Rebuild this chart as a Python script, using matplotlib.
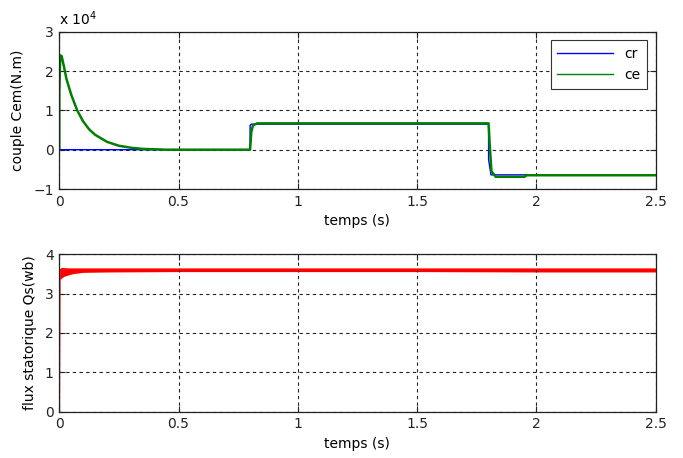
import numpy as np
import matplotlib.pyplot as plt

plt.rcParams['font.family'] = ['DejaVu Sans']

# couple resistant (cr), steps, in units of 1e4 N.m
t_cr = [0, 0.8, 0.8, 0.805, 1.8, 1.8, 1.81, 2.5]
cr = [0, 0, 0.62, 0.65, 0.65, -0.25, -0.64, -0.64]

# couple electromagnetique (ce), 1e4 N.m
t_ce = [0, 0.0, 0.004, 0.01, 0.02, 0.03, 0.05, 0.075, 0.1, 0.125, 0.15, 0.2,
        0.25, 0.3, 0.35, 0.4, 0.45, 0.8, 0.805, 0.812, 0.83, 1.8, 1.805,
        1.812, 1.83, 1.95, 1.96, 2.5]
ce = [0, 1.45, 2.4, 2.38, 2.1, 1.8, 1.4, 1.0, 0.72, 0.52, 0.38, 0.2,
      0.1, 0.05, 0.02, 0.01, 0.0, 0.0, 0.45, 0.62, 0.67, 0.67, 0.1,
      -0.55, -0.69, -0.69, -0.65, -0.65]

# flux statorique envelopes (wb)
t_flux = [0, 0.002, 0.01, 0.02, 0.04, 0.06, 0.1, 0.2, 0.5, 1.0, 1.5, 2.0, 2.5]
flux_hi = [0, 3.58, 3.63, 3.63, 3.62, 3.62, 3.62, 3.62, 3.62, 3.62, 3.62, 3.62, 3.62]
flux_lo = [0, 3.35, 3.40, 3.44, 3.48, 3.51, 3.54, 3.55, 3.56, 3.56, 3.56, 3.55, 3.55]

FS = 10

fig = plt.figure(figsize=(6.83, 4.58), dpi=100)
ax1 = fig.add_axes([0.0868, 0.5873, 0.873, 0.3434])
ax2 = fig.add_axes([0.0868, 0.1011, 0.873, 0.3437])

grid_kw = dict(color='#222222', linestyle=(0, (3, 3)), linewidth=0.8)

ax1.plot(t_cr, cr, color='#0000ff', lw=1.0, label='cr')
ax1.plot(t_ce, ce, color='#008000', lw=1.8)
ax1.plot([], [], color='#008000', lw=1.0, label='ce')
ax1.set_xlim(0, 2.5)
ax1.set_ylim(-1, 3)
ax1.set_yticks([-1, 0, 1, 2, 3])
ax1.set_xticks([0, 0.5, 1, 1.5, 2, 2.5])
ax1.set_xticklabels(['0', '0.5', '1', '1.5', '2', '2.5'])
ax1.set_xlabel('temps (s)', fontsize=FS, labelpad=4)
ax1.set_ylabel('couple Cem(N.m)', fontsize=FS, labelpad=6)
ax1.text(0.0, 1.025, r'x 10$^4$', transform=ax1.transAxes, fontsize=FS, va='bottom')
leg = ax1.legend(loc='upper right', fontsize=FS, fancybox=False, framealpha=1,
                 edgecolor='#333333', handlelength=4.0, borderaxespad=0.6,
                 labelspacing=0.5, borderpad=0.5)
leg.get_frame().set_linewidth(0.8)

ax2.fill_between(t_flux, flux_lo, flux_hi, color='#ff0000', lw=0)
ax2.plot(t_flux, flux_hi, color='#ff0000', lw=1.2)
ax2.plot([0, 0], [0, 3.5], color='#ff0000', lw=1.2)
ax2.set_xlim(0, 2.5)
ax2.set_ylim(0, 4)
ax2.set_yticks([0, 1, 2, 3, 4])
ax2.set_xticks([0, 0.5, 1, 1.5, 2, 2.5])
ax2.set_xticklabels(['0', '0.5', '1', '1.5', '2', '2.5'])
ax2.set_xlabel('temps (s)', fontsize=FS, labelpad=4)
ax2.set_ylabel('flux statorique Qs(wb)', fontsize=FS, labelpad=6)

for ax in (ax1, ax2):
    ax.grid(True, **grid_kw)
    ax.tick_params(direction='in', top=True, right=True, labelsize=FS,
                   length=4, width=0.8, colors='#222222', pad=4)
    for s in ax.spines.values():
        s.set_linewidth(0.9)
        s.set_color('#222222')

fig.savefig('out.png', dpi=100)
